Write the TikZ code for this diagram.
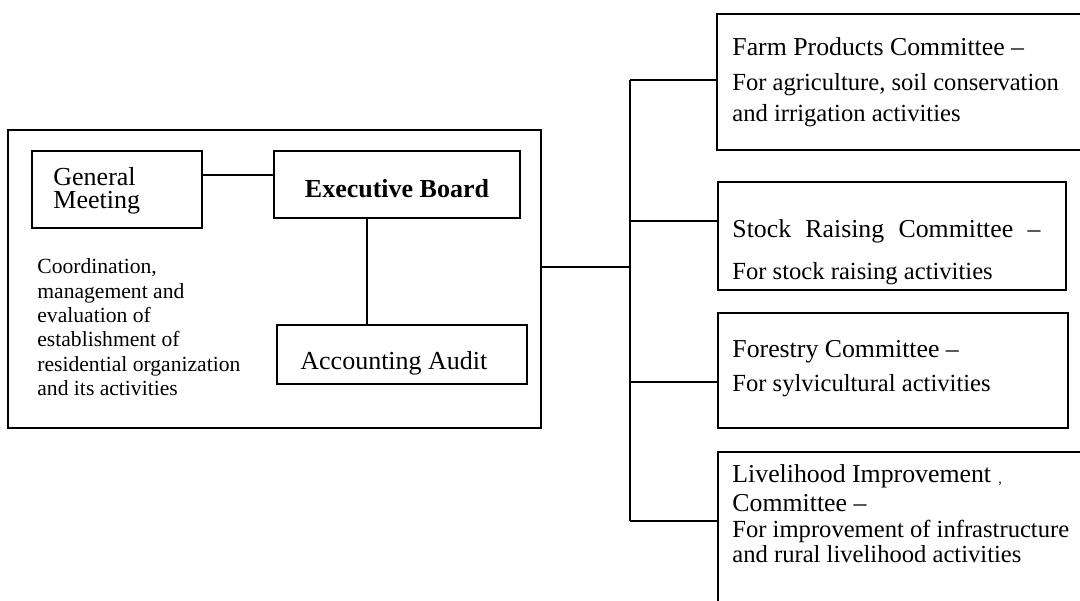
\documentclass[tikz,border=0pt]{standalone}
\usepackage{fontspec}
\setmainfont{Liberation Serif}
\begin{document}
\begin{tikzpicture}[x=0.5pt,y=-0.5pt,
  box/.style={draw, line width=0.95pt, inner sep=0pt},
  conn/.style={draw, line width=0.8pt},
  head/.style={inner sep=0pt, anchor=base west, font=\fontsize{13}{15}\selectfont},
  rhead/.style={inner sep=0pt, anchor=base west, font=\fontsize{12.9}{15}\selectfont},
  rdesc/.style={inner sep=0pt, anchor=base west, font=\fontsize{12.3}{14}\selectfont},
  ldesc/.style={inner sep=0pt, anchor=base west, font=\fontsize{10.8}{12}\selectfont}]
\useasboundingbox (0,0) rectangle (1080,600);
\clip (0,0) rectangle (1080,600);
\fill[white] (0,0) rectangle (1080,600);

% left group
\node[box, minimum width=266.5pt, minimum height=149pt] (outer) at (274.5,279) {};
\node[box, minimum width=85pt, minimum height=38.5pt] (gm) at (117,189.5) {};
\node[box, minimum width=123pt, minimum height=33.5pt] (eb) at (397,184.5) {};
\node[box, minimum width=125pt, minimum height=29.5pt] (aa) at (402,354.5) {};

\node[head] (gm1) at (53,185) {General};
\node[head] (gm2) at (53,208) {Meeting};
\node[head, anchor=base, font=\fontsize{13}{15}\selectfont\bfseries] (ebt) at (397,197) {Executive Board};
\node[head] (aat) at (300,369) {Accounting Audit};

\node[ldesc] (d1) at (37,273) {Coordination,};
\node[ldesc] (d2) at (37,298) {management and};
\node[ldesc] (d3) at (37,322) {evaluation of};
\node[ldesc] (d4) at (37,346) {establishment of};
\node[ldesc] (d5) at (37,371) {residential organization};
\node[ldesc] (d6) at (37,395) {and its activities};

% right group
\node[box, minimum width=191.5pt, minimum height=68pt] (farm) at (908.5,82) {};
\node[box, minimum width=174pt, minimum height=54pt] (stock) at (892,236) {};
\node[box, minimum width=175pt, minimum height=57.5pt] (forest) at (893,370.5) {};
\node[box, minimum width=191pt, minimum height=84pt] (live) at (909,536) {};

\node[rhead] (f1) at (732,55) {Farm Products Committee –};
\node[rdesc] (f2) at (732,90) {For agriculture, soil conservation};
\node[rdesc] (f3) at (732,121) {and irrigation activities};

\node[rhead] (s1) at (732,237) {\makebox[154pt][s]{Stock Raising Committee –}};
\node[rdesc] (s2) at (732,279) {For stock raising activities};

\node[rhead] (fo1) at (732,357) {Forestry Committee –};
\node[rdesc] (fo2) at (732,391) {For sylvicultural activities};

\node[rhead] (l1) at (732,482) {Livelihood Improvement};
\node[rhead] (l2) at (732,511) {Committee –};
\node[rdesc] (l3) at (732,537) {For improvement of infrastructure};
\node[rdesc] (l4) at (732,562) {and rural livelihood activities};
\node[inner sep=0pt, font=\fontsize{7}{8}\selectfont] (speck) at (1000,484) {,};

% connectors
\coordinate (gy) at (0,175);
\coordinate (vx) at (367,0);
\coordinate (my) at (0,267);
\coordinate (b1) at (630,80);
\coordinate (b2) at (630,221);
\coordinate (b3) at (630,382);
\coordinate (b4) at (630,521);

\draw[conn] (gm.east |- gy) -- (eb.west |- gy);
\draw[conn] (eb.south -| vx) -- (aa.north -| vx);
\draw[conn] (outer.east |- my) -- (b2 |- my);
\draw[conn] (b1) -- (b4);
\draw[conn] (b1) -- (farm.west |- b1);
\draw[conn] (b2) -- (stock.west |- b2);
\draw[conn] (b3) -- (forest.west |- b3);
\draw[conn] (b4) -- (live.west |- b4);
\end{tikzpicture}
\end{document}
